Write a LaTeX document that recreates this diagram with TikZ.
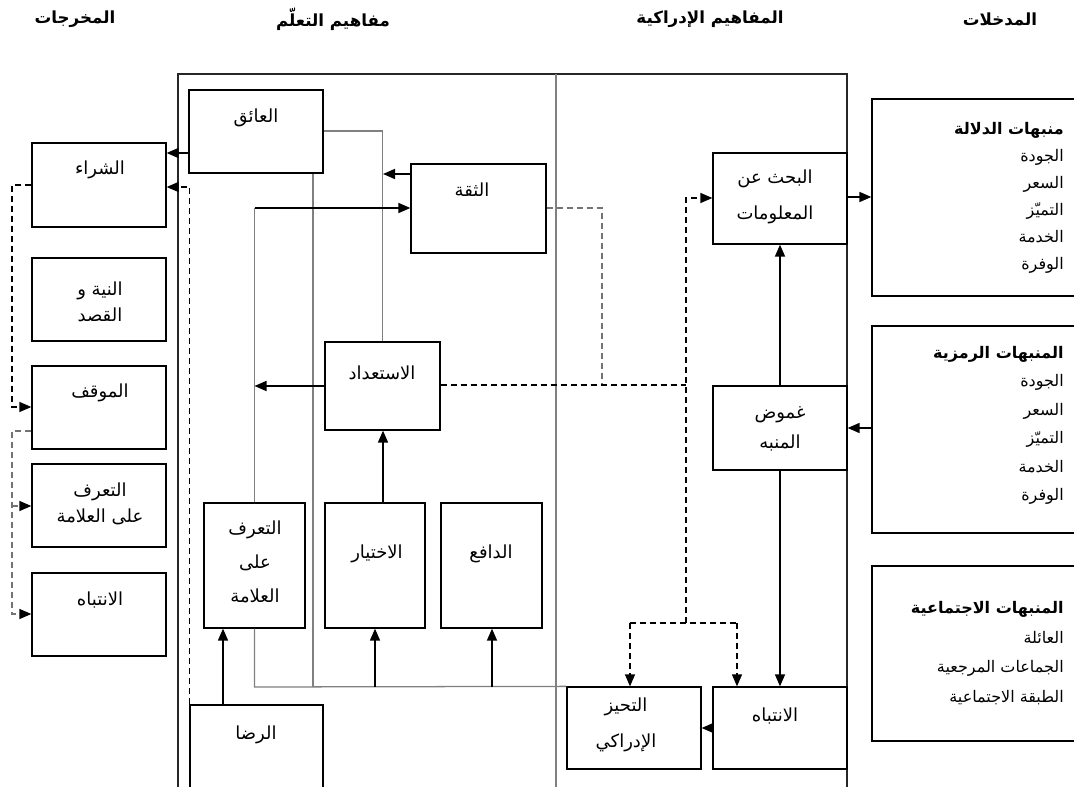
\documentclass[tikz,border=0pt]{standalone}
\usepackage{fontspec}
\newfontfamily\arfont[Script=Arabic]{DejaVu Sans}
\TeXXeTstate=1
\usetikzlibrary{arrows.meta,fit}
\newcommand\AR[1]{\beginR #1\endR}
\tikzset{
  box/.style={draw=black, line width=0.95pt, inner sep=0pt},
  frameline/.style={draw=black!85, line width=0.95pt},
  gline/.style={draw=black!50, line width=0.95pt},
  arr/.style={draw=black, line width=1.2pt, -{Triangle[length=9pt,width=7.5pt]}},
  kdash/.style={draw=black, line width=0.95pt, dash pattern=on 4.5pt off 3pt},
  gdash/.style={draw=black!55, line width=0.95pt, dash pattern=on 4.5pt off 3pt},
  tip/.style={-{Triangle[length=9pt,width=7.5pt,color=black]}},
  txt/.style={font=\arfont\fontsize{13.5}{19.5}\selectfont, align=center, inner sep=0pt},
  hdr/.style={font=\arfont\bfseries\fontsize{12.5}{14}\selectfont, inner sep=0pt},
  lst/.style={font=\arfont\fontsize{12}{20.25}\selectfont, align=right, inner sep=0pt, anchor=north east},
}
\begin{document}
\begin{tikzpicture}[x=0.75pt,y=-0.75pt]
\useasboundingbox (0,0) rectangle (1074,787);
\clip (0,0) rectangle (1074,787);

% headers
\node[hdr] (h1) at (75,19) {\AR{المخرجات}};
\node[hdr] (h2) at (333,19) {\AR{مفاهيم التعلّم}};
\node[hdr] (h3) at (710,19) {\AR{المفاهيم الإدراكية}};
\node[hdr] (h4) at (1000,19) {\AR{المدخلات}};

% frame
\draw[frameline] (178,800) -- (178,74) -- (847,74) -- (847,800);
\draw[gline] (556,74) -- (556,800);

% output boxes
\node[box, fit={(32,143)(166,227)}] (out1) {};
\node[box, fit={(32,258)(166,341)}] (out2) {};
\node[box, fit={(32,366)(166,449)}] (out3) {};
\node[box, fit={(32,464)(166,547)}] (out4) {};
\node[box, fit={(32,573)(166,656)}] (out5) {};
\node[txt] (out1t) at (100,170) {\AR{الشراء}};
\node[txt] (out2t) at (100,302) {\AR{النية و}\\\AR{القصد}};
\node[txt] (out3t) at (100,393) {\AR{الموقف}};
\node[txt] (out4t) at (100,504) {\AR{التعرف}\\\AR{على العلامة}};
\node[txt] (out5t) at (100,600) {\AR{الانتباه}};

% learning concepts
\node[box, fit={(189,90)(323,173)}] (aeq) {};
\node[box, fit={(411,164)(546,253)}] (thiqa) {};
\node[box, fit={(325,342)(440,430)}] (istidad) {};
\node[box, fit={(204,503)(305,628)}] (taarruf) {};
\node[box, fit={(325,503)(425,628)}] (ikhtiyar) {};
\node[box, fit={(441,503)(542,628)}] (dafi) {};
\node[box, fit={(190,705)(323,800)}] (rida) {};
\node[txt] (aeqt) at (256,118) {\AR{العائق}};
\node[txt] (thiqat) at (472,190) {\AR{الثقة}};
\node[txt] (istidadt) at (382,373) {\AR{الاستعداد}};
\node[txt, font=\arfont\fontsize{13.5}{25.5}\selectfont] (taarruft) at (255,562) {\AR{التعرف}\\\AR{على}\\\AR{العلامة}};
\node[txt] (ikhtiyart) at (377,554) {\AR{الاختيار}};
\node[txt] (dafit) at (491,554) {\AR{الدافع}};
\node[txt] (ridat) at (256,735) {\AR{الرضا}};

% perceptual concepts
\node[box, fit={(713,153)(847,244)}] (bahth) {};
\node[box, fit={(713,386)(847,470)}] (ghumud) {};
\node[box, fit={(713,687)(847,769)}] (intibah) {};
\node[box, fit={(567,687)(701,769)}] (tahayyuz) {};
\node[txt, font=\arfont\fontsize{13.5}{27.5}\selectfont] (bahtht) at (775,197) {\AR{البحث عن}\\\AR{المعلومات}};
\node[txt, font=\arfont\fontsize{13.5}{22.5}\selectfont] (ghumudt) at (780,429) {\AR{غموض}\\\AR{المنبه}};
\node[txt] (intibaht) at (775,716) {\AR{الانتباه}};
\node[txt, font=\arfont\fontsize{13.5}{27}\selectfont] (tahayyuzt) at (626,725) {\AR{التحيز}\\\AR{الإدراكي}};

% inputs
\node[box, fit={(872,99)(1090,296)}] (in1) {};
\node[box, fit={(872,326)(1090,533)}] (in2) {};
\node[box, fit={(872,566)(1090,741)}] (in3) {};
\node[lst] (in1t) at (1064,122) {{\bfseries\fontsize{12}{20.25}\selectfont\AR{منبهات الدلالة}}\\\AR{الجودة}\\\AR{السعر}\\\AR{التميّز}\\\AR{الخدمة}\\\AR{الوفرة}};
\node[lst, font=\arfont\fontsize{12}{21.3}\selectfont] (in2t) at (1064,346) {{\bfseries\fontsize{12}{21.3}\selectfont\AR{المنبهات الرمزية}}\\\AR{الجودة}\\\AR{السعر}\\\AR{التميّز}\\\AR{الخدمة}\\\AR{الوفرة}};
\node[lst, font=\arfont\fontsize{12}{22.3}\selectfont] (in3t) at (1064,601) {{\bfseries\fontsize{12}{22.3}\selectfont\AR{المنبهات الاجتماعية}}\\\AR{العائلة}\\\AR{الجماعات المرجعية}\\\AR{الطبقة الاجتماعية}};

% helper coordinates
\coordinate (j1) at (383,174);
\coordinate (b1) at (375,687);
\coordinate (b2) at (492,687);
\coordinate (d1) at (602,385);
\coordinate (d2) at (686,385);
\coordinate (d3) at (686,623);
\coordinate (d4) at (630,623);
\coordinate (d5) at (737,623);
\coordinate (l1) at (12,185);
\coordinate (l2) at (12,431);
\coordinate (l3) at (12,506);

% gray structural lines
\draw[gline] (aeq.east |- 0,131) -| (istidad.north);
\draw[gline] (aeq.south -| 313,0) -- (313,687);
\draw[gline] (tahayyuz.north west) -- (taarruf.south |- 0,687) -- (taarruf.south);
\draw[gline] (taarruf.north) -- (taarruf.north |- 0,208);

% arrows
\draw[arr] (aeq.west |- 0,153) -- (out1.east |- 0,153);
\draw[kdash, tip] (rida.north west) -- (rida.north west |- 0,187) -- (out1.east |- 0,187);
\draw[arr] (thiqa.west |- j1) -- (j1);
\draw[arr] (taarruf.north |- 0,208) -- (thiqa.west |- 0,208);
\draw[arr] (istidad.west |- 0,386) -- (taarruf.north |- 0,386);
\draw[arr] (ikhtiyar.north -| 383,0) -- (istidad.south -| 383,0);
\draw[arr] (rida.north -| 223,0) -- (taarruf.south -| 223,0);
\draw[arr] (b1) -- (ikhtiyar.south -| b1);
\draw[arr] (b2) -- (dafi.south -| b2);

% dashed links
\draw[gdash] (thiqa.east |- 0,208) -| (d1);
\draw[kdash] (istidad.east |- d2) -- (d2);
\draw[kdash, tip] (d3) -- (686,198) -- (bahth.west |- 0,198);
\draw[kdash] (d4) -- (d5);
\draw[kdash, tip] (d4) -- (tahayyuz.north -| d4);
\draw[kdash, tip] (d5) -- (intibah.north -| d5);

% perceptual arrows
\draw[arr] (ghumud.north) -- (bahth.south);
\draw[arr] (ghumud.south) -- (intibah.north);
\draw[arr] (intibah.west |- 0,728) -- (tahayyuz.east |- 0,728);
\draw[arr] (bahth.east |- 0,197) -- (in1.west |- 0,197);
\draw[arr] (in2.west |- 0,428) -- (ghumud.east |- 0,428);

% output side dashed
\draw[kdash, tip] (out1.west |- l1) -- (l1) |- (out3.west |- 0,407);
\draw[gdash, tip] (out3.west |- l2) -- (l2) |- (out5.west |- 0,614);
\draw[gdash, tip] (l3) -- (out4.west |- l3);
\end{tikzpicture}
\end{document}
